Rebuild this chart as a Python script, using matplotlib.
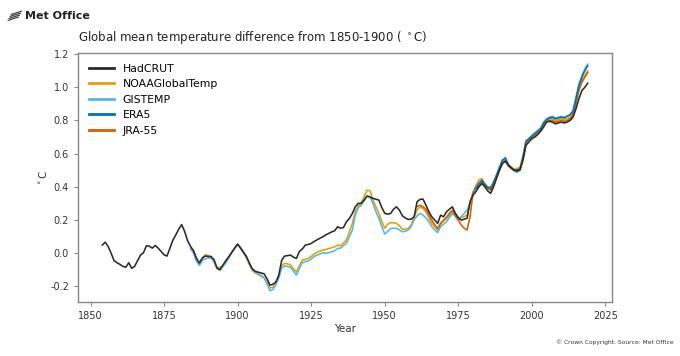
import numpy as np
import matplotlib
matplotlib.use("Agg")
import matplotlib.pyplot as plt
from matplotlib.lines import Line2D

# 年份与各数据集的温度距平（相对1850-1900，单位°C）
had_years = list(range(1854, 2020))
hadcrut = [
    0.048, 0.066, 0.040, 0.000, -0.045, -0.058, -0.068, -0.080, -0.085, -0.058,
    -0.092, -0.080, -0.045, -0.012, 0.002, 0.044, 0.042, 0.030, 0.046, 0.030,
    0.010, -0.010, -0.018, 0.030, 0.078, 0.110, 0.145, 0.172, 0.130, 0.075,
    0.040, 0.015, -0.030, -0.060, -0.030, -0.018, -0.020, -0.022, -0.040, -0.090,
    -0.100, -0.072, -0.045, -0.022, 0.005, 0.030, 0.055, 0.030, 0.005, -0.020,
    -0.060, -0.095, -0.110, -0.115, -0.120, -0.125, -0.155, -0.193, -0.188, -0.175,
    -0.133, -0.042, -0.018, -0.015, -0.012, -0.025, -0.032, 0.010, 0.025, 0.048,
    0.052, 0.058, 0.070, 0.080, 0.090, 0.098, 0.110, 0.119, 0.128, 0.135,
    0.159, 0.150, 0.155, 0.189, 0.210, 0.239, 0.280, 0.300, 0.300, 0.320,
    0.344, 0.338, 0.330, 0.325, 0.320, 0.275, 0.240, 0.235, 0.239, 0.265,
    0.279, 0.259, 0.225, 0.212, 0.203, 0.205, 0.219, 0.310, 0.324, 0.326,
    0.290, 0.250, 0.219, 0.200, 0.179, 0.229, 0.219, 0.249, 0.265, 0.279,
    0.240, 0.215, 0.199, 0.205, 0.210, 0.310, 0.350, 0.370, 0.400, 0.420,
    0.400, 0.375, 0.360, 0.400, 0.450, 0.500, 0.540, 0.555, 0.530, 0.515,
    0.500, 0.500, 0.505, 0.560, 0.650, 0.670, 0.690, 0.700, 0.715, 0.735,
    0.760, 0.790, 0.795, 0.790, 0.780, 0.785, 0.790, 0.785, 0.790, 0.800,
    0.820, 0.870, 0.930, 0.980, 1.000, 1.025,
]

noaa_years = list(range(1884, 2020))
noaa = [
    0.030, 0.010, -0.040, -0.065, -0.030, -0.010, -0.015, -0.020, -0.050, -0.095,
    -0.105, -0.080, -0.050, -0.025, 0.000, 0.030, 0.050, 0.030, 0.000, -0.030,
    -0.070, -0.105, -0.120, -0.130, -0.140, -0.150, -0.175, -0.210, -0.205, -0.180,
    -0.140, -0.075, -0.062, -0.065, -0.072, -0.095, -0.113, -0.075, -0.042, -0.038,
    -0.032, -0.020, -0.005, 0.005, 0.012, 0.018, 0.022, 0.028, 0.032, 0.038,
    0.048, 0.045, 0.060, 0.080, 0.130, 0.179, 0.250, 0.285, 0.305, 0.340,
    0.380, 0.375, 0.320, 0.280, 0.240, 0.190, 0.150, 0.175, 0.183, 0.183,
    0.179, 0.165, 0.143, 0.145, 0.149, 0.170, 0.220, 0.260, 0.279, 0.270,
    0.249, 0.215, 0.179, 0.160, 0.139, 0.175, 0.195, 0.209, 0.230, 0.249,
    0.225, 0.199, 0.215, 0.220, 0.229, 0.300, 0.360, 0.410, 0.440, 0.450,
    0.420, 0.400, 0.400, 0.430, 0.470, 0.510, 0.550, 0.560, 0.530, 0.520,
    0.505, 0.510, 0.520, 0.590, 0.680, 0.690, 0.700, 0.715, 0.725, 0.745,
    0.780, 0.800, 0.810, 0.810, 0.800, 0.805, 0.810, 0.805, 0.810, 0.820,
    0.845, 0.920, 1.000, 1.040, 1.070, 1.100,
]

gis_years = list(range(1884, 2020))
gistemp = [
    0.025, 0.000, -0.050, -0.075, -0.045, -0.035, -0.030, -0.030, -0.055, -0.090,
    -0.085, -0.080, -0.060, -0.030, 0.000, 0.030, 0.052, 0.035, 0.005, -0.025,
    -0.065, -0.100, -0.115, -0.125, -0.135, -0.150, -0.185, -0.227, -0.220, -0.190,
    -0.150, -0.090, -0.078, -0.080, -0.087, -0.110, -0.133, -0.090, -0.058, -0.052,
    -0.048, -0.035, -0.020, -0.012, -0.005, 0.002, 0.000, 0.002, 0.008, 0.014,
    0.028, 0.030, 0.045, 0.060, 0.100, 0.139, 0.230, 0.275, 0.289, 0.315,
    0.344, 0.340, 0.300, 0.250, 0.210, 0.160, 0.115, 0.130, 0.149, 0.150,
    0.149, 0.140, 0.128, 0.132, 0.139, 0.160, 0.200, 0.225, 0.239, 0.230,
    0.212, 0.190, 0.159, 0.140, 0.123, 0.160, 0.175, 0.189, 0.215, 0.239,
    0.220, 0.199, 0.220, 0.239, 0.260, 0.299, 0.370, 0.400, 0.410, 0.430,
    0.410, 0.395, 0.390, 0.420, 0.470, 0.520, 0.560, 0.570, 0.530, 0.510,
    0.495, 0.490, 0.505, 0.580, 0.670, 0.690, 0.710, 0.725, 0.740, 0.755,
    0.790, 0.810, 0.820, 0.825, 0.815, 0.820, 0.825, 0.820, 0.825, 0.835,
    0.860, 0.940, 1.020, 1.070, 1.110, 1.140,
]

era5_years = list(range(1981, 2020))
era5 = [
    0.390, 0.420, 0.440, 0.415, 0.395, 0.390, 0.425, 0.470, 0.515, 0.560,
    0.575, 0.535, 0.515, 0.500, 0.490, 0.500, 0.575, 0.670, 0.690, 0.705,
    0.720, 0.735, 0.750, 0.785, 0.805, 0.815, 0.820, 0.810, 0.815, 0.820,
    0.815, 0.825, 0.835, 0.855, 0.930, 1.010, 1.060, 1.100, 1.130,
]

jra_years = list(range(1961, 2020))
jra55 = [
    0.280, 0.289, 0.280, 0.265, 0.230, 0.199, 0.170, 0.149, 0.180, 0.199,
    0.215, 0.240, 0.259, 0.230, 0.199, 0.170, 0.150, 0.139, 0.219, 0.360,
    0.390, 0.400, 0.430, 0.410, 0.390, 0.380, 0.420, 0.460, 0.500, 0.545,
    0.555, 0.525, 0.510, 0.500, 0.500, 0.510, 0.570, 0.665, 0.685, 0.700,
    0.710, 0.720, 0.740, 0.775, 0.795, 0.800, 0.800, 0.790, 0.795, 0.800,
    0.795, 0.800, 0.810, 0.835, 0.900, 0.980, 1.030, 1.060, 1.090,
]

fig = plt.figure(figsize=(6.8, 3.56), dpi=100)
ax = fig.add_axes([0.1147, 0.1517, 0.7853, 0.6994])

# 先画彩色线，黑线最后画在最上面
lw = 1.15
l_noaa, = ax.plot(noaa_years, noaa, color='#E69F00', lw=lw)
l_gis, = ax.plot(gis_years, gistemp, color='#56B4E9', lw=lw)
l_jra, = ax.plot(jra_years, jra55, color='#D55E00', lw=lw)
l_era, = ax.plot(era5_years, era5, color='#0072B2', lw=lw)
l_had, = ax.plot(had_years, hadcrut, color='#2b2b2b', lw=lw)

ax.set_xlim(1845.75, 2027.25)
ax.set_ylim(-0.295, 1.207)
ax.set_xticks(np.arange(1850, 2026, 25))
ax.set_yticks(np.arange(-0.2, 1.21, 0.2))
ax.set_yticklabels(['%.1f' % v for v in np.arange(-0.2, 1.21, 0.2)])
for sp in ax.spines.values():
    sp.set_color('#888888')
    sp.set_linewidth(1.0)
ax.tick_params(labelsize=7, colors='#888888', labelcolor='#333333', length=3, width=0.8)

ax.set_title('Global mean temperature difference from 1850-1900 ( $^\\circ$C)',
             loc='left', fontsize=8.5, color='#222222', pad=9)
ax.set_xlabel('Year', fontsize=7.5, color='#333333', labelpad=2)
ax.set_ylabel('$^\\circ$C', fontsize=7.5, color='#333333', labelpad=1)

leg = ax.legend([l_had, l_noaa, l_gis, l_era, l_jra],
                ['HadCRUT', 'NOAAGlobalTemp', 'GISTEMP', 'ERA5', 'JRA-55'],
                loc='upper left', frameon=False, fontsize=7.8, handlelength=2.3,
                labelspacing=0.5, borderaxespad=0.6)
for h in leg.legend_handles:
    h.set_linewidth(2.0)

# Met Office 标志
for i in range(4):
    y0 = 0.943 + i * 0.0055
    fig.add_artist(Line2D([0.012 + i * 0.0015, 0.027 + i * 0.0015], [y0, y0 + 0.009],
                          color='#333333', lw=0.8))
fig.text(0.037, 0.955, 'Met Office', fontsize=8, fontweight='bold', color='#222222',
         va='center', ha='left')

fig.text(0.991, 0.040, '\u00a9 Crown Copyright. Source: Met Office', fontsize=4.3,
         color='#333333', ha='right', va='center')

fig.savefig('out.png', dpi=100)
